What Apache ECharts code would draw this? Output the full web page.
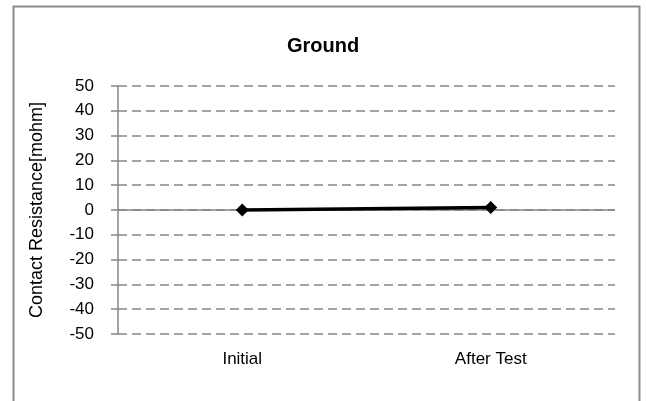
<!DOCTYPE html>
<html><head><meta charset="utf-8">
<script src="https://cdn.jsdelivr.net/npm/echarts@6/dist/echarts.min.js"></script>
<style>html,body{margin:0;padding:0;background:#fff}#c{width:646px;height:401px}</style>
</head><body><div id="c"></div>
<script>
const categories = ['Initial', 'After Test'];
const values = [0, 1];
const titleText = 'Ground';
const yAxisName = 'Contact Resistance[mohm]';
const yMin = -50, yMax = 50, yStep = 10;

const chart = echarts.init(document.getElementById('c'));
const font = 'Liberation Sans, Arial, sans-serif';
chart.setOption({
  animation: false,
  title: { text: titleText, left: 'center', top: 31, textStyle: { fontFamily: font, fontSize: 20, fontWeight: 'bold', color: '#000' } },
  graphic: [{ type: 'rect', shape: { x: 13.5, y: 6.5, width: 626, height: 420 }, style: { fill: 'none', stroke: '#8c8c8c', lineWidth: 2 }, silent: true }],
  grid: { left: 118, right: 31, top: 86, bottom: 67 },
  xAxis: {
    type: 'category', data: categories, boundaryGap: true,
    axisLine: { show: false }, axisTick: { show: false },
    axisLabel: { fontFamily: font, fontSize: 17, color: '#000', margin: 17 }
  },
  yAxis: {
    type: 'value', min: yMin, max: yMax, interval: yStep,
    name: yAxisName, nameLocation: 'middle', nameGap: 72, nameRotate: 90,
    nameTextStyle: { fontFamily: font, fontSize: 18, color: '#000' },
    axisLine: { show: true, lineStyle: { color: '#868686', width: 1.5 } },
    axisTick: { show: true, length: 7, lineStyle: { color: '#868686', width: 1.5 } },
    axisLabel: { fontFamily: font, fontSize: 17, color: '#000', margin: 24 },
    splitLine: { show: true, lineStyle: { color: '#868686', width: 1.5, type: [9, 5] } }
  },
  series: [{
    type: 'line', data: values,
    symbol: 'diamond', symbolSize: 13,
    lineStyle: { color: '#000', width: 3.5 },
    itemStyle: { color: '#000' },
    z: 5,
    markLine: {
      silent: true, symbol: 'none', label: { show: false },
      lineStyle: { color: '#868686', width: 1.5, type: 'solid' },
      data: [{ yAxis: 0 }], z: 1
    }
  }]
});
</script></body></html>
